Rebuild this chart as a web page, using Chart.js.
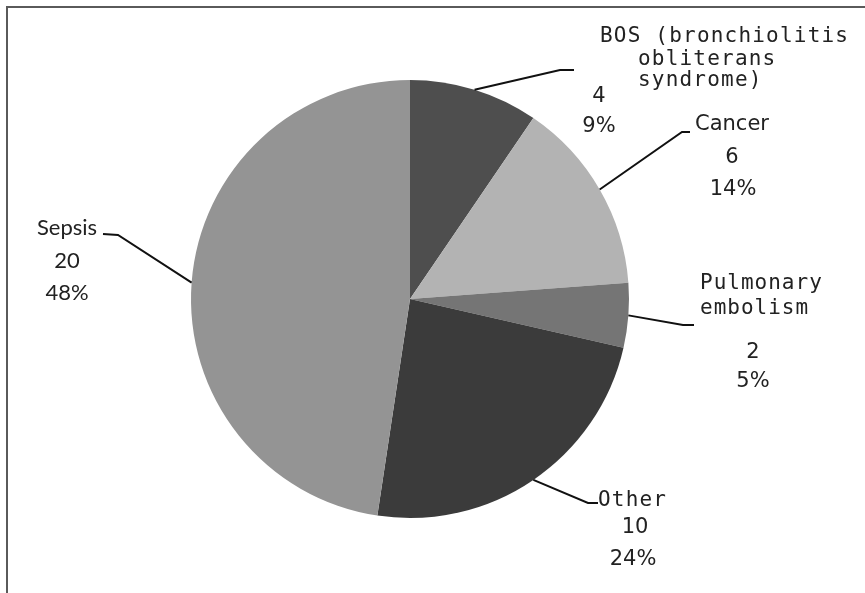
<!DOCTYPE html>
<html>
<head>
<meta charset="utf-8">
<title>Causes of death</title>
<script src="https://cdn.jsdelivr.net/npm/chart.js@4.4.0/dist/chart.umd.min.js"></script>
<style>
  html, body { margin: 0; padding: 0; background: #fff; }
  #wrap { position: relative; width: 865px; height: 593px; }
</style>
</head>
<body>
<div id="wrap"><canvas id="causeChart" width="865" height="593"></canvas></div>
<script>
// slices, clockwise from 12 o'clock
const categories = ['BOS (bronchiolitis obliterans syndrome)', 'Cancer', 'Pulmonary embolism', 'Other', 'Sepsis'];
const counts = [4, 6, 2, 10, 20];
const percentLabels = ['9%', '14%', '5%', '24%', '48%'];
const nameLines = [['BOS (bronchiolitis', 'obliterans', 'syndrome)'], ['Cancer'], ['Pulmonary', 'embolism'], ['Other'], ['Sepsis']];
const sliceColors = ['#4e4e4e', '#b3b3b3', '#757575', '#3b3b3b', '#949494'];

const MONO = '21px "DejaVu Sans Mono"';
const SANS = '21px "DejaVu Sans"';
const CALI = '22px Lato';

// where each callout sits: leader elbow/end, then text rows
const labelLayout = [
  { elbow: [560, 70], end: [574, 70],
    name: { font: MONO, spacing: '1.2px', rows: [[600, 42], [638, 65], [638, 86]] },
    value: [599, 97], pct: [599, 127], font: SANS },
  { elbow: [682, 132], end: [690, 132],
    name: { font: SANS, spacing: '0px', center: true, rows: [[732, 125]] },
    value: [732, 158], pct: [733, 190], font: SANS },
  { elbow: [683, 325], end: [694, 325],
    name: { font: MONO, spacing: '1px', rows: [[700, 289], [700, 314]] },
    value: [753, 353], pct: [753, 382], font: SANS },
  { elbow: [588, 503], end: [598, 503],
    name: { font: MONO, spacing: '1.2px', rows: [[598, 506]] },
    value: [635, 528], pct: [633, 560], font: SANS },
  { elbow: [118, 235], end: [103, 234],
    name: { font: CALI, spacing: '0px', center: true, rows: [[67, 228]] },
    value: [67, 261], pct: [67, 293], font: CALI }
];

const framePlugin = {
  id: 'frame',
  beforeDraw(chart) {
    const ctx = chart.ctx;
    ctx.save();
    ctx.fillStyle = '#fff';
    ctx.fillRect(0, 0, chart.width, chart.height);
    ctx.strokeStyle = '#5a5a5a';
    ctx.lineWidth = 2;
    ctx.beginPath();
    ctx.moveTo(7, chart.height);
    ctx.lineTo(7, 7);
    ctx.lineTo(chart.width, 7);
    ctx.stroke();
    ctx.restore();
  }
};

const calloutPlugin = {
  id: 'callouts',
  afterDraw(chart) {
    const ctx = chart.ctx;
    const arcs = chart.getDatasetMeta(0).data;
    ctx.save();
    arcs.forEach((arc, i) => {
      const p = arc.getProps(['x', 'y', 'startAngle', 'endAngle', 'outerRadius'], true);
      const mid = (p.startAngle + p.endAngle) / 2;
      const sx = p.x + Math.cos(mid) * p.outerRadius;
      const sy = p.y + Math.sin(mid) * p.outerRadius;
      const lay = labelLayout[i];

      ctx.strokeStyle = '#111';
      ctx.lineWidth = 2;
      ctx.beginPath();
      ctx.moveTo(sx, sy);
      ctx.lineTo(lay.elbow[0], lay.elbow[1]);
      ctx.lineTo(lay.end[0], lay.end[1]);
      ctx.stroke();

      ctx.fillStyle = '#222';
      const nm = lay.name;
      ctx.font = nm.font;
      ctx.letterSpacing = nm.spacing;
      ctx.textAlign = nm.center ? 'center' : 'left';
      ctx.textBaseline = nm.center ? 'middle' : 'alphabetic';
      nameLines[i].forEach((txt, k) => {
        ctx.fillText(txt, nm.rows[k][0], nm.rows[k][1]);
      });

      ctx.letterSpacing = '0px';
      ctx.font = lay.font;
      ctx.textAlign = 'center';
      ctx.textBaseline = 'middle';
      ctx.fillText(String(chart.data.datasets[0].data[i]), lay.value[0], lay.value[1]);
      ctx.fillText(percentLabels[i], lay.pct[0], lay.pct[1]);
    });
    ctx.restore();
  }
};

new Chart(document.getElementById('causeChart').getContext('2d'), {
  type: 'pie',
  data: {
    labels: categories,
    datasets: [{
      data: counts,
      backgroundColor: sliceColors,
      borderWidth: 0
    }]
  },
  options: {
    responsive: false,
    animation: false,
    layout: { padding: { top: 80, bottom: 75, left: 191, right: 236 } },
    plugins: { legend: { display: false }, tooltip: { enabled: false } }
  },
  plugins: [framePlugin, calloutPlugin]
});
</script>
</body>
</html>
